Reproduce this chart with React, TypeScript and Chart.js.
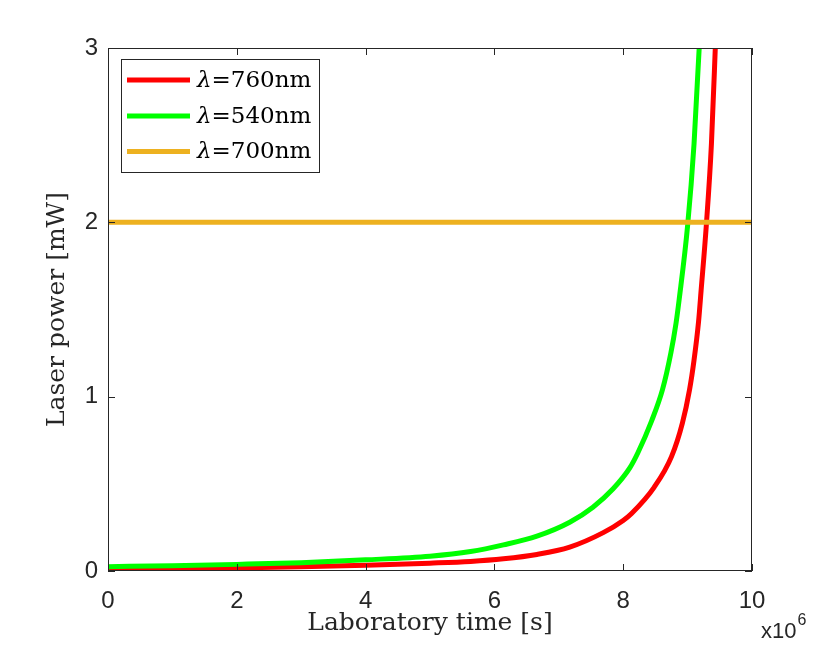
import React, { useEffect, useRef } from "react";
import { Chart, registerables } from "chart.js";

Chart.register(...registerables);

// time in units of 10^6 s
const timeRed = [0, 1, 2, 3, 4, 5, 5.63, 6.14, 6.66, 7.17, 7.69, 8.0, 8.13, 8.48, 8.75, 8.92, 9.03, 9.1, 9.17, 9.21, 9.29, 9.37, 9.43, 9.5];
const powerRed = [0.01, 0.013, 0.018, 0.024, 0.033, 0.045, 0.055, 0.07, 0.095, 0.137, 0.22, 0.29, 0.33, 0.48, 0.656, 0.85, 1.04, 1.21, 1.43, 1.61, 1.98, 2.45, 3.0, 3.7];

const timeGreen = [0, 1, 2, 3, 4, 5, 5.63, 6.14, 6.66, 7.17, 7.53, 7.84, 8.1, 8.23, 8.44, 8.61, 8.74, 8.82, 8.87, 9.0, 9.1, 9.18, 9.25];
const powerGreen = [0.025, 0.03, 0.038, 0.048, 0.064, 0.085, 0.112, 0.15, 0.2, 0.28, 0.366, 0.47, 0.59, 0.68, 0.86, 1.04, 1.25, 1.42, 1.56, 1.98, 2.45, 3.0, 3.6];

const timeOrange = [0, 10];
const powerOrange = [2, 2];

const seriesLabels = ["760nm", "540nm", "700nm"];
const seriesColors = ["#FF0000", "#00FF00", "#EDB120"];

const xTicks = [0, 2, 4, 6, 8, 10];
const yTicks = [0, 1, 2, 3];

const AXIS = "#262626";
const SERIF = "'DejaVu Serif', 'Liberation Serif', serif";
const SANS = "'Liberation Sans', Arial, sans-serif";

const toPoints = (xs: number[], ys: number[]) => xs.map((x, i) => ({ x, y: ys[i] }));

const boxPlugin = {
  id: "matlabBox",
  afterDatasetsDraw(chart: any) {
    const { ctx, chartArea, scales } = chart;
    const { left, right, top, bottom } = chartArea;
    ctx.save();
    ctx.strokeStyle = AXIS;
    ctx.lineWidth = 1;
    ctx.strokeRect(left + 0.5, top + 0.5, right - left - 1, bottom - top - 1);
    const tl = 7;
    ctx.beginPath();
    xTicks.forEach((v) => {
      const px = Math.round(scales.x.getPixelForValue(v)) + 0.5;
      ctx.moveTo(px, bottom);
      ctx.lineTo(px, bottom - tl);
      ctx.moveTo(px, top);
      ctx.lineTo(px, top + tl);
    });
    yTicks.forEach((v) => {
      const py = Math.round(scales.y.getPixelForValue(v)) + 0.5;
      ctx.moveTo(left, py);
      ctx.lineTo(left + tl, py);
      ctx.moveTo(right, py);
      ctx.lineTo(right - tl, py);
    });
    ctx.stroke();

    // exponent label
    ctx.fillStyle = AXIS;
    ctx.textBaseline = "alphabetic";
    ctx.textAlign = "left";
    ctx.font = `22px ${SANS}`;
    ctx.fillText("x10", 761, 638);
    const w = ctx.measureText("x10").width;
    ctx.font = `16px ${SANS}`;
    ctx.fillText("6", 761 + w + 1, 625);

    // legend
    const lx = 121, ly = 59, lw = 198, lh = 113;
    ctx.fillStyle = "#FFFFFF";
    ctx.fillRect(lx, ly, lw, lh);
    ctx.strokeStyle = AXIS;
    ctx.strokeRect(lx + 0.5, ly + 0.5, lw, lh);
    const rows = [80, 116, 151.5];
    chart.data.datasets.forEach((ds: any, i: number) => {
      const y = rows[i];
      ctx.strokeStyle = ds.borderColor;
      ctx.lineWidth = 5;
      ctx.beginPath();
      ctx.moveTo(127, y);
      ctx.lineTo(190, y);
      ctx.stroke();
      ctx.fillStyle = "#000000";
      ctx.textBaseline = "middle";
      ctx.font = `italic 23px ${SERIF}`;
      ctx.fillText("λ", 197, y + 1);
      const lw2 = ctx.measureText("λ").width;
      ctx.font = `23px ${SERIF}`;
      ctx.fillText("=" + seriesLabels[i], 197 + lw2, y + 1);
    });
    ctx.restore();
  },
};

export default function App() {
  const ref = useRef<HTMLCanvasElement | null>(null);
  useEffect(() => {
    if (!ref.current) return;
    const chart = new Chart(ref.current, {
      type: "line",
      data: {
        datasets: [
          {
            label: "λ=" + seriesLabels[0],
            data: toPoints(timeRed, powerRed),
            borderColor: seriesColors[0],
            borderWidth: 5,
            pointRadius: 0,
            cubicInterpolationMode: "monotone",
            clip: 0,
            order: 3,
          },
          {
            label: "λ=" + seriesLabels[1],
            data: toPoints(timeGreen, powerGreen),
            borderColor: seriesColors[1],
            borderWidth: 5,
            pointRadius: 0,
            cubicInterpolationMode: "monotone",
            clip: 0,
            order: 2,
          },
          {
            label: "λ=" + seriesLabels[2],
            data: toPoints(timeOrange, powerOrange),
            borderColor: seriesColors[2],
            borderWidth: 5,
            pointRadius: 0,
            clip: 0,
            order: 1,
          },
        ],
      },
      options: {
        animation: false,
        responsive: false,
        devicePixelRatio: 1,
        layout: { padding: { left: 0, top: 48, right: 78, bottom: 0 } },
        plugins: { legend: { display: false }, tooltip: { enabled: false } },
        scales: {
          x: {
            type: "linear",
            min: 0,
            max: 10,
            afterFit: (s: any) => { s.height = 82; },
            afterBuildTicks: (s: any) => { s.ticks = xTicks.map((v) => ({ value: v })); },
            grid: { display: false, drawTicks: false },
            border: { display: false },
            ticks: { color: AXIS, font: { family: SANS, size: 24 }, padding: 16, maxRotation: 0 },
            title: {
              display: true,
              text: "Laboratory time [s]",
              color: "#262626",
              font: { family: SERIF, size: 25 },
              padding: { top: 0, bottom: 15 },
            },
          },
          y: {
            type: "linear",
            min: 0,
            max: 3,
            afterFit: (s: any) => { s.width = 108; },
            afterBuildTicks: (s: any) => { s.ticks = yTicks.map((v) => ({ value: v })); },
            grid: { display: false, drawTicks: false },
            border: { display: false },
            ticks: { color: AXIS, font: { family: SANS, size: 24 }, padding: 10 },
            title: {
              display: true,
              text: "Laser power [mW]",
              color: "#262626",
              font: { family: SERIF, size: 25 },
              padding: { top: 42, bottom: 0 },
            },
          },
        },
      },
      plugins: [boxPlugin],
    });
    return () => chart.destroy();
  }, []);
  return (
    <div style={{ position: "fixed", left: 0, top: 0, width: 830, height: 653, background: "#fff" }}>
      <canvas ref={ref} width={830} height={653} style={{ display: "block" }} />
    </div>
  );
}
